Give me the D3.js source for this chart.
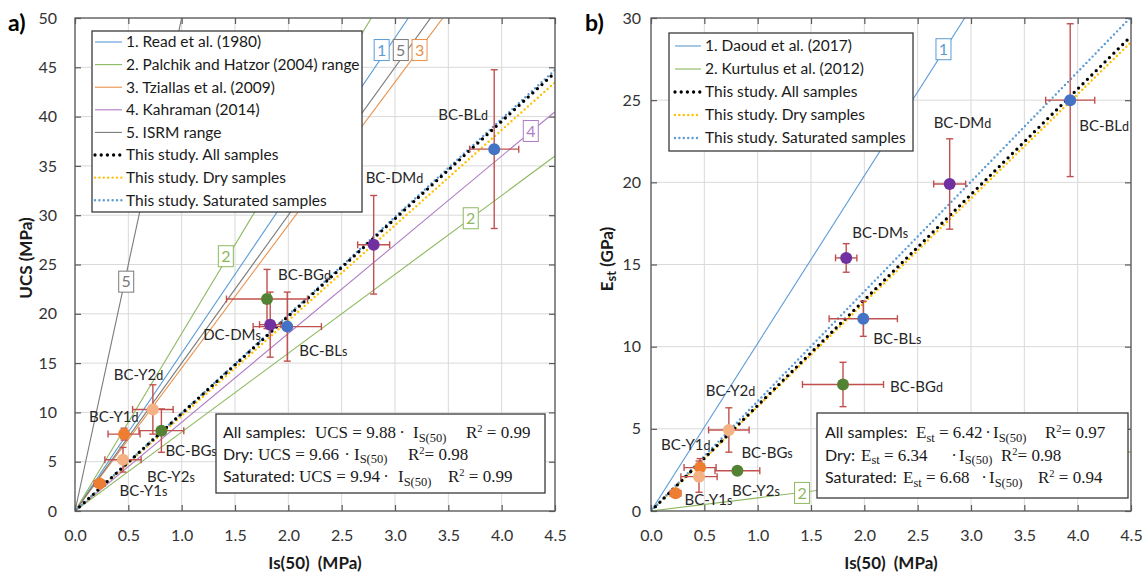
<!DOCTYPE html>
<html><head><meta charset="utf-8">
<script src="https://cdn.jsdelivr.net/npm/d3@7"></script>
<style>
body{margin:0;background:#fff;}
svg text{font-family:Lato,"Open Sans",sans-serif;}
</style></head><body>
<svg id="chart" width="1148" height="575"></svg>
<script>
// ---- data ----
const labelsA = ["BC-BLd","BC-DMd","BC-BGd","DC-DMs","BC-BLs","BC-Y2d","BC-Y1d","BC-BGs","BC-Y2s","BC-Y1s"];
const labelsB = ["BC-BLd","BC-DMd","BC-BGd","BC-DMs","BC-BLs","BC-Y2d","BC-Y1d","BC-BGs","BC-Y2s","BC-Y1s"];
const groups  = ["BL","DM","BG","DM","BL","Y2","Y1","BG","Y2","Y1"];
const is50    = [3.93, 2.80, 1.80, 1.83, 1.99, 0.73, 0.46, 0.81, 0.45, 0.23];
const is50Err = [0.23, 0.15, 0.38, 0.10, 0.32, 0.19, 0.15, 0.21, 0.17, 0.05];
const ucs     = [36.7, 27.0, 21.5, 18.9, 18.7, 10.3, 7.8, 8.15, 5.2, 2.8];
const ucsErr  = [8.05, 5.0, 3.0, 3.3, 3.5, 2.5, 0.6, 2.2, 1.25, 0.3];
const est     = [25.0, 19.9, 7.7, 15.4, 11.7, 4.93, 2.64, 2.45, 2.09, 1.08];
const estErr  = [4.65, 2.75, 1.35, 0.87, 1.07, 1.35, 0.55, 0.15, 0.95, 0.2];

const ucsRefNames  = ["1. Read et al. (1980)","2. Palchik and Hatzor (2004) range","3. Tziallas et al. (2009)","4. Kahraman (2014)","5. ISRM range"];
const ucsRefSlopes = [[16],[8,18],[14.5],[9],[15,50]];
const estRefNames  = ["1. Daoud et al. (2017)","2. Kurtulus et al. (2012)"];
const estRefSlopes = [[10.2],[0.8]];
const studyNames = ["This study. All samples","This study. Dry samples","This study. Saturated samples"];
const ucsFit = [9.88, 9.66, 9.94];
const ucsR2  = ["0.99","0.98","0.99"];
const estFit = [6.42, 6.34, 6.68];
const estR2  = ["0.97","0.98","0.94"];
const eqGroups = ["All samples:","Dry:","Saturated:"];

const xTicks   = [0,0.5,1,1.5,2,2.5,3,3.5,4,4.5];
const ucsTicks = [0,5,10,15,20,25,30,35,40,45,50];
const estTicks = [0,5,10,15,20,25,30];

// numbered tags sitting on the reference lines: [text, refIndex, x, y] in data units
const ucsTags = [["1",0,2.875,46.75],["5",4,3.054,46.75],["3",2,3.23,46.75],["4",3,4.273,38.54],
                 ["2",1,3.71,29.69],["2",1,1.414,25.84],["5",4,0.48,23.26]];
const estTags = [["1",0,2.742,28.1],["2",1,1.416,1.1]];

// ---- styles / layout ----
const SANS = 'Lato,"Open Sans",sans-serif';
const SERIF = '"Liberation Serif","DejaVu Serif",serif';
const groupColor = {BL:"#4472c4", DM:"#7030a0", BG:"#548235", Y1:"#ed7d31", Y2:"#f4b183"};
const ucsRefColors = ["#5b9bd5","#8db860","#e8914c","#b07cc6","#7a7a7a"];
const estRefColors = ["#5b9bd5","#8db860"];
const studyStyle = [{c:"#000000", w:3.3, d:"0 6.2"},{c:"#ffc000", w:2.4, d:"0 4.4"},{c:"#5b9bd5", w:2.4, d:"0 4.4"}];
const errColor = "#c0504d";

const offsA = [[-56,-34],[-8,-67],[11,-24],[-67,10],[12,24],[-39,-35],[-35,-17],[4,20],[24,17],[20,7]];
const offsB = [[9,26],[-16,-61],[47,2],[6,-25],[10,20],[-23,-39],[-39,-23],[4,-18],[33,14],[9,6]];

const svg = d3.select("#chart");
const defs = svg.append("defs");

function drawPanel(p) {
  const g = svg.append("g");
  const x = d3.scaleLinear().domain([0, 4.5]).range([p.left, p.right]);
  const y = d3.scaleLinear().domain([0, p.yMax]).range([p.bottom, p.top]);

  // grid
  g.append("g").selectAll("line").data(xTicks).join("line")
    .attr("x1", d => x(d)).attr("x2", d => x(d)).attr("y1", p.top).attr("y2", p.bottom)
    .attr("stroke", "#d9d9d9").attr("stroke-width", 1);
  g.append("g").selectAll("line").data(p.yTicks).join("line")
    .attr("y1", d => y(d)).attr("y2", d => y(d)).attr("x1", p.left).attr("x2", p.right)
    .attr("stroke", "#d9d9d9").attr("stroke-width", 1);

  // axes with inward ticks on all four sides
  const styleAxis = (sel) => {
    sel.select(".domain").remove();
    sel.selectAll(".tick line").attr("stroke", "#595959").attr("stroke-width", 1.2);
    sel.selectAll(".tick text").attr("fill", "#333").style("font-family", SANS).style("font-size", "16px");
  };
  g.append("g").attr("transform", `translate(0,${p.bottom})`)
    .call(d3.axisBottom(x).tickValues(xTicks).tickFormat(d3.format(".1f")).tickSizeInner(-6).tickSizeOuter(0).tickPadding(19))
    .call(styleAxis);
  g.append("g").attr("transform", `translate(${p.left},0)`)
    .call(d3.axisLeft(y).tickValues(p.yTicks).tickFormat(d3.format("d")).tickSizeInner(-6).tickSizeOuter(0).tickPadding(p.yPad))
    .call(styleAxis);
  g.append("g").attr("transform", `translate(0,${p.top})`)
    .call(d3.axisTop(x).tickValues(xTicks).tickFormat("").tickSizeInner(-6).tickSizeOuter(0))
    .call(styleAxis);
  g.append("g").attr("transform", `translate(${p.right},0)`)
    .call(d3.axisRight(y).tickValues(p.yTicks).tickFormat("").tickSizeInner(-6).tickSizeOuter(0))
    .call(styleAxis);

  // reference and fitted lines, clipped to the plot area
  defs.append("clipPath").attr("id", "clip-" + p.id).append("rect")
    .attr("x", p.left).attr("y", p.top).attr("width", p.right - p.left).attr("height", p.bottom - p.top);
  const lg = g.append("g").attr("clip-path", `url(#clip-${p.id})`);
  p.refSlopes.forEach((slopes, i) => slopes.forEach(k => {
    lg.append("line").attr("x1", x(0)).attr("y1", y(0)).attr("x2", x(4.5)).attr("y2", y(k * 4.5))
      .attr("stroke", p.refColors[i]).attr("stroke-width", 1.1);
  }));
  [1, 2, 0].forEach(i => {
    const s = studyStyle[i];
    lg.append("line").attr("x1", x(0)).attr("y1", y(0)).attr("x2", x(4.5)).attr("y2", y(p.fit[i] * 4.5))
      .attr("stroke", s.c).attr("stroke-width", s.w).attr("stroke-dasharray", s.d).attr("stroke-linecap", "round");
  });

  // error bars
  const eb = g.append("g").attr("stroke", errColor).attr("stroke-width", 1.4);
  const cap = 3.5;
  is50.forEach((xv, i) => {
    const cx = x(xv), cy = y(p.values[i]);
    const x0 = x(xv - is50Err[i]), x1 = x(xv + is50Err[i]);
    const y0 = y(p.values[i] - p.errs[i]), y1 = y(p.values[i] + p.errs[i]);
    eb.append("line").attr("x1", x0).attr("x2", x1).attr("y1", cy).attr("y2", cy);
    eb.append("line").attr("x1", x0).attr("x2", x0).attr("y1", cy - cap).attr("y2", cy + cap);
    eb.append("line").attr("x1", x1).attr("x2", x1).attr("y1", cy - cap).attr("y2", cy + cap);
    eb.append("line").attr("x1", cx).attr("x2", cx).attr("y1", y0).attr("y2", y1);
    eb.append("line").attr("x1", cx - cap).attr("x2", cx + cap).attr("y1", y0).attr("y2", y0);
    eb.append("line").attr("x1", cx - cap).attr("x2", cx + cap).attr("y1", y1).attr("y2", y1);
  });

  // markers
  g.append("g").selectAll("circle").data(is50).join("circle")
    .attr("cx", d => x(d)).attr("cy", (d, i) => y(p.values[i])).attr("r", 6)
    .attr("fill", (d, i) => groupColor[groups[i]]);

  // sample labels (final letter set smaller)
  p.labels.forEach((lab, i) => {
    const t = g.append("text")
      .attr("x", x(is50[i]) + p.offs[i][0]).attr("y", y(p.values[i]) + p.offs[i][1])
      .attr("dy", "0.35em").attr("fill", "#262626").style("font-size", "15px");
    t.append("tspan").text(lab.slice(0, -1));
    t.append("tspan").style("font-size", "12.5px").text(lab.slice(-1));
  });

  // numbered tags
  p.tags.forEach(([txt, ri, tx, ty]) => {
    const cx = x(tx), cy = y(ty);
    g.append("rect").attr("x", cx - 7.5).attr("y", cy - 10.5).attr("width", 15).attr("height", 21)
      .attr("fill", "#fff").attr("stroke", p.refColors[ri]).attr("stroke-width", 1);
    g.append("text").attr("x", cx).attr("y", cy).attr("dy", "0.36em").attr("text-anchor", "middle")
      .attr("fill", p.refColors[ri]).style("font-size", "16px").text(txt);
  });

  // legend
  const L = p.legend;
  const items = p.refNames.map((n, i) => ({n, c: p.refColors[i], solid: true}))
    .concat(studyNames.map((n, i) => ({n, s: studyStyle[i], solid: false})));
  g.append("rect").attr("x", L.x).attr("y", L.y).attr("width", L.w).attr("height", L.h)
    .attr("fill", "#fff").attr("stroke", "#3a3a3a").attr("stroke-width", 1.3);
  items.forEach((it, k) => {
    const yy = L.y0 + k * L.step;
    const ln = g.append("line").attr("x1", L.lx0).attr("x2", L.lx1).attr("y1", yy).attr("y2", yy);
    if (it.solid) ln.attr("stroke", it.c).attr("stroke-width", 1.1);
    else ln.attr("stroke", it.s.c).attr("stroke-width", it.s.w).attr("stroke-dasharray", it.s.d).attr("stroke-linecap", "round");
    g.append("text").attr("x", L.tx).attr("y", yy).attr("dy", "0.35em").attr("fill", "#1a1a1a")
      .style("font-size", "15.5px").text(it.n);
  });

  // regression equations
  const E = p.eq;
  g.append("rect").attr("x", E.x).attr("y", E.y).attr("width", E.w).attr("height", E.h)
    .attr("fill", "#fff").attr("stroke", "#3a3a3a").attr("stroke-width", 1.3);
  eqGroups.forEach((grp, k) => {
    const bl = E.base[k], pos = E.pos[k];
    const txt = (xx) => g.append("text").attr("x", E.x + xx).attr("y", bl).attr("fill", "#1a1a1a");
    txt(pos[0]).style("font-family", SANS).style("font-size", "16px").text(grp);
    const lhs = txt(pos[1]).style("font-family", SERIF).style("font-size", "17px");
    if (p.id === "a") {
      lhs.append("tspan").text("UCS = " + p.fit[k].toFixed(2));
    } else {
      lhs.append("tspan").text("E");
      lhs.append("tspan").attr("dy", 3.5).style("font-size", "12.5px").text("st");
      lhs.append("tspan").attr("dy", -3.5).text(" = " + p.fit[k].toFixed(2));
    }
    txt(pos[2]).attr("text-anchor", "middle").style("font-family", SERIF).style("font-size", "17px").text("·");
    const is = txt(pos[3]).style("font-family", SERIF).style("font-size", "17px");
    is.append("tspan").text("I");
    is.append("tspan").attr("dy", 3.5).style("font-size", "12.5px").text("S(50)");
    const r = txt(pos[4]).style("font-family", SERIF).style("font-size", "17px");
    r.append("tspan").text("R");
    r.append("tspan").attr("dy", -6).style("font-size", "10.5px").text("2");
    r.append("tspan").attr("dy", 6).text((E.gap[k] ? " " : "") + "= " + p.r2[k]);
  });

  // axis titles
  const xt = g.append("text").attr("x", (p.left + p.right) / 2).attr("y", 569).attr("text-anchor", "middle")
    .attr("fill", "#1a1a1a").style("font-weight", "bold").style("font-size", "17px");
  xt.append("tspan").text("Is(50)");
  xt.append("tspan").attr("dx", 8).text("(MPa)");
  const yt = g.append("text").attr("transform", `translate(${p.ytx},${p.tyc}) rotate(-90)`)
    .attr("text-anchor", "middle").attr("fill", "#1a1a1a").style("font-weight", "bold").style("font-size", "17px");
  p.yTitle(yt);

  svg.append("text").attr("x", p.tagX).attr("y", 31).attr("fill", "#000")
    .style("font-weight", "bold").style("font-size", "23px").text(p.panelLabel);
}

drawPanel({
  id: "a", left: 75, right: 555, top: 18, bottom: 511, yMax: 50, yTicks: ucsTicks, yPad: 18,
  values: ucs, errs: ucsErr, labels: labelsA, offs: offsA,
  refNames: ucsRefNames, refSlopes: ucsRefSlopes, refColors: ucsRefColors, fit: ucsFit, r2: ucsR2, tags: ucsTags,
  legend: {x: 92, y: 31, w: 270, h: 181, y0: 42, step: 22.6, lx0: 95, lx1: 122, tx: 126},
  eq: {x: 216, y: 414, w: 329, h: 79, base: [438, 459.5, 482],
       pos: [[7, 99, 186, 197, 250], [7, 42, 131, 138, 192], [7, 83, 170, 182, 232]], gap: [true, false, true]},
  ytx: 32, tyc: 258,
  yTitle: t => t.text("UCS (MPa)"),
  tagX: 8, panelLabel: "a)"
});

drawPanel({
  id: "b", left: 651, right: 1131, top: 18, bottom: 511, yMax: 30, yTicks: estTicks, yPad: 10,
  values: est, errs: estErr, labels: labelsB, offs: offsB,
  refNames: estRefNames, refSlopes: estRefSlopes, refColors: estRefColors, fit: estFit, r2: estR2, tags: estTags,
  legend: {x: 669, y: 33, w: 244, h: 118, y0: 46, step: 23, lx0: 675, lx1: 701, tx: 705},
  eq: {x: 817, y: 413, w: 311, h: 85, base: [438, 460.5, 483],
       pos: [[8, 99, 171, 176, 228], [8, 44, 137, 142, 184], [8, 86, 167, 172, 221]], gap: [false, false, true]},
  ytx: 613, tyc: 259,
  yTitle: t => { t.append("tspan").text("E"); t.append("tspan").style("font-size", "13px").attr("dy", 3).text("st");
                 t.append("tspan").attr("dy", -3).text(" (GPa)"); },
  tagX: 585, panelLabel: "b)"
});

// plot frames on top of grid
[[75, 555], [651, 1131]].forEach(([l, r]) => {
  svg.append("rect").attr("x", l).attr("y", 18).attr("width", r - l).attr("height", 493)
    .attr("fill", "none").attr("stroke", "#595959").attr("stroke-width", 1.3);
});
</script>
</body></html>
